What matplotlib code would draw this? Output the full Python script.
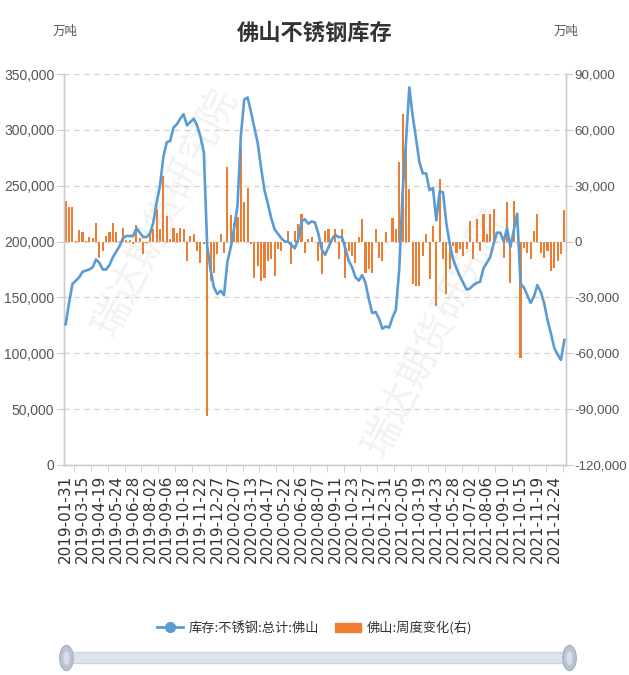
import matplotlib
matplotlib.use('Agg')
import matplotlib.pyplot as plt
from matplotlib.ticker import FuncFormatter
from matplotlib.lines import Line2D
from matplotlib.patches import Patch, FancyBboxPatch, Ellipse
import numpy as np

# 库存:不锈钢:总计:佛山 (left axis)
inventory = [126000, 145000, 162000, 165000, 168000, 173000, 174000, 175000, 177000, 184000,
             181000, 175000, 175000, 179000, 186000, 191000, 196000, 203000, 205000, 205000,
             205000, 212000, 208000, 204000, 204000, 207000, 217000, 235000, 250000, 276000,
             289000, 290000, 302000, 305000, 310000, 314000, 304000, 307000, 310000, 304000,
             294000, 280000, 196000, 175000, 159000, 153000, 156000, 152000, 182000, 195000,
             212000, 232000, 295000, 327000, 329000, 316000, 302000, 288000, 266000, 246000,
             234000, 221000, 211000, 207000, 203000, 200000, 200000, 197000, 194000, 202000,
             218000, 220000, 216000, 218000, 217000, 207000, 193000, 188000, 195000, 202000,
             206000, 204000, 204000, 194000, 183000, 177000, 168000, 165000, 170000, 163000,
             148000, 136000, 137000, 131000, 122000, 124000, 123000, 132000, 139000, 175000,
             244000, 289000, 338000, 312000, 292000, 271000, 261000, 261000, 246000, 248000,
             219000, 245000, 244000, 216000, 198000, 184000, 176000, 169000, 163000, 157000,
             158000, 161000, 163000, 164000, 176000, 181000, 186000, 198000, 208000, 208000,
             200000, 212000, 195000, 210000, 225000, 162000, 159000, 152000, 145000, 151000,
             161000, 155000, 145000, 130000, 118000, 105000, 99000, 94000, 112000]

# 佛山:周度变化 (right axis)
weekly_change = [22000, 18500, 18500, 300, 6300, 4900, 500, 2200, 1800, 10200,
                 -8600, -5000, 3000, 4900, 9900, 5200, 500, 7500, 1000, 1000,
                 -1400, 9000, 2000, -6800, -1000, 4000, 6600, 17400, 6600, 35400,
                 13800, 1300, 7500, 4500, 7500, 6500, -10400, 3000, 4300, -5000,
                 -11300, -1400, -93600, -21000, -16700, -6800, 4000, -5900, 40000, 14500,
                 10000, 13000, 51000, 21000, 29000, -1400, -19400, -13000, -21200, -19400,
                 -10400, -9500, -18500, -4100, -5000, 0, 5700, -12200, 5700, 9300,
                 14700, -5900, 1300, 2200, 0, -10400, -17600, 5700, 6600, 500,
                 6600, -9500, 6600, -19400, -5000, -7700, -11300, 2200, 12000, -16700,
                 -14900, -16700, 6600, -8600, -10400, 4900, 0, 12400, 7000, 42600,
                 68600, 55200, 28200, -23000, -23900, -23900, -7700, 4000, -20300, 8400,
                 -34700, 33600, -9500, -28400, -14900, -2300, -5900, -4100, -7700, -4000,
                 11100, -9500, 12000, -5000, 14700, 4000, 14700, 17400, 0, 0,
                 -8600, 21000, -22000, 21900, 0, -62500, -3200, -5900, -9500, 5700,
                 14700, -5900, -8600, -5000, -15800, -14000, -10400, -6800, 17000]

date_labels = ['2019-01-31', '2019-03-15', '2019-04-19', '2019-05-24', '2019-06-28',
               '2019-08-02', '2019-09-06', '2019-10-18', '2019-11-22', '2019-12-27',
               '2020-02-07', '2020-03-13', '2020-04-17', '2020-05-22', '2020-06-26',
               '2020-08-07', '2020-09-11', '2020-10-23', '2020-11-27', '2020-12-31',
               '2021-02-05', '2021-03-19', '2021-04-23', '2021-05-28', '2021-07-02',
               '2021-08-06', '2021-09-10', '2021-10-15', '2021-11-19', '2021-12-24']

plt.rcParams['font.family'] = ['Noto Sans CJK SC', 'DejaVu Sans']

fig = plt.figure(figsize=(6.29, 6.75), dpi=100)
ax = fig.add_axes([64/629, 1-465/675, 502/629, 391/675])
ax2 = ax.twinx()

x = np.arange(len(inventory))
blue = '#5B9BD5'
orange = '#ED7D31'
axis_grey = '#cccccc'

ax2.set_axisbelow(True)
ax2.grid(axis='y', linestyle=(0, (4, 4)), color='#d0d0d0', lw=0.9)
ax2.bar(x, weekly_change, width=0.62, color=orange, zorder=2)
ax.plot(x, inventory, color=blue, lw=1.9, zorder=3, solid_joinstyle='round')
ax.set_zorder(ax2.get_zorder() + 1)
ax.patch.set_visible(False)

ax.set_xlim(-0.5, len(x) - 0.5)
ax.set_ylim(0, 350000)
ax2.set_ylim(-120000, 90000)
ax.set_yticks(range(0, 350001, 50000))
ax2.set_yticks(range(-120000, 90001, 30000))
fmt = FuncFormatter(lambda v, p: f'{int(v):,}')
ax.yaxis.set_major_formatter(fmt)
ax2.yaxis.set_major_formatter(fmt)

for a in (ax, ax2):
    a.spines['top'].set_visible(False)
    for s in ('left', 'right', 'bottom'):
        a.spines[s].set_color(axis_grey)
        a.spines[s].set_linewidth(1.0)

ax.tick_params(axis='y', length=5, color=axis_grey, labelsize=10, labelcolor='#555555', pad=2)
ax2.tick_params(axis='y', length=5, color=axis_grey, labelsize=9.6, labelcolor='#555555', pad=1.2)
for lab in ax.get_yticklabels() + ax2.get_yticklabels():
    lab.set_family('Liberation Sans')

# x axis: labels every 5 categories, ticks offset as in the source
label_pos = x[::5][:len(date_labels)]
ax.set_xticks(label_pos)
ax.set_xticklabels(date_labels, rotation=90, fontsize=11, color='#333333', family='DejaVu Sans')
ax.tick_params(axis='x', length=0, pad=7)
ax.set_xticks(np.arange(2.5, len(x), 5), minor=True)
ax.tick_params(axis='x', which='minor', length=5, color=axis_grey)

fig.text(0.5, 1 - 33/675, '佛山不锈钢库存', ha='center', va='center', fontsize=16,
         fontweight='bold', color='#333333')
fig.text(65/629, 1 - 31/675, '万吨', ha='center', va='center', fontsize=9, color='#555555')
fig.text(566/629, 1 - 31/675, '万吨', ha='center', va='center', fontsize=9, color='#555555')

# watermark
for cx, cy in [(165, 212), (435, 332)]:
    fig.text(cx/629, 1 - cy/675, '瑞达期货研究院', ha='center', va='center', rotation=63,
             fontsize=28, color='#999999', alpha=0.13, zorder=0)

handles = [Line2D([0], [0], color=blue, lw=2, marker='o', markersize=7),
           Patch(facecolor=orange, edgecolor=orange)]
fig.legend(handles, ['库存:不锈钢:总计:佛山', '佛山:周度变化(右)'], loc='center',
           bbox_to_anchor=(0.5, 1 - 628/675), ncol=2, frameon=False, fontsize=9.5,
           handlelength=2.0, handletextpad=0.4, columnspacing=1.2, labelcolor='#333333')

# data zoom slider
sl = fig.add_axes([56/629, 1 - 672/675, 524/629, 28/675])
sl.set_xlim(0, 1)
sl.set_ylim(0, 1)
sl.axis('off')
sl.add_patch(FancyBboxPatch((0.015, 0.3), 0.97, 0.4, boxstyle='round,pad=0,rounding_size=0.01',
                            fc='#dde3ec', ec='#c9d1dd', lw=0.8))
for hx in (0.02, 0.98):
    sl.add_patch(Ellipse((hx, 0.5), 0.026, 0.9, fc='#b9c3d1', ec='#a5b0c0', lw=0.8))
    sl.add_patch(Ellipse((hx, 0.5), 0.012, 0.5, fc='#d7dde6', ec='none'))

fig.savefig('out.png', dpi=100)
